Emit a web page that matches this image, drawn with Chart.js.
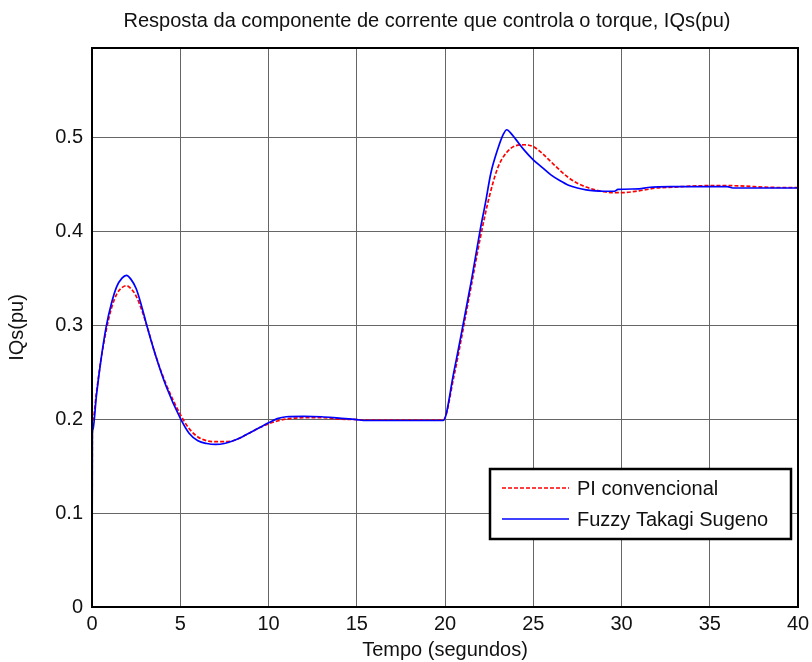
<!DOCTYPE html>
<html>
<head>
<meta charset="utf-8">
<script src="https://cdn.jsdelivr.net/npm/chart.js@4"></script>
<style>
  html, body { margin: 0; padding: 0; background: #fff; }
  #wrap { width: 812px; height: 662px; }
</style>
</head>
<body>
<div id="wrap"><canvas id="iqsChart" width="812" height="662"></canvas></div>
<script>
// tempo (s) e IQs (pu)
const tempoPI = [0, 0.02, 0.05, 0.25, 0.5, 0.8, 1.1, 1.4, 1.7, 1.95, 2.2, 2.5, 2.8, 3.1, 3.6, 4.2, 5, 5.5, 6, 6.5, 7, 7.5, 8, 8.5, 9, 9.5, 10, 10.5, 11, 12, 13, 14, 15, 15.5, 17, 19, 19.9,
  20.5, 21, 21.5, 22, 22.5, 23, 23.5, 24, 24.5, 25, 25.5, 26, 26.5, 27, 27.5, 28, 28.5, 29, 29.5, 30, 31, 32, 33, 34, 35, 36, 37, 38, 39, 40];
const iqsPI = [0, 0.194, 0.199, 0.228, 0.262, 0.294, 0.318, 0.333, 0.340, 0.342, 0.339, 0.331, 0.317, 0.300, 0.268, 0.237, 0.205, 0.190, 0.181, 0.177, 0.176, 0.176, 0.177, 0.181, 0.186, 0.191, 0.195, 0.198, 0.200, 0.2015, 0.2015, 0.200, 0.1995, 0.199, 0.199, 0.199, 0.199,
  0.245, 0.293, 0.343, 0.393, 0.436, 0.468, 0.484, 0.491, 0.492, 0.490, 0.483, 0.474, 0.465, 0.457, 0.451, 0.447, 0.444, 0.442, 0.441, 0.441, 0.443, 0.446, 0.447, 0.448, 0.4485, 0.4485, 0.448, 0.447, 0.4465, 0.4465];

const tempoFuzzy = [0, 0.02, 0.05, 0.25, 0.5, 0.8, 1.1, 1.4, 1.7, 1.95, 2.2, 2.5, 2.8, 3.1, 3.6, 4.2, 5, 5.5, 6, 6.5, 7, 7.5, 8, 8.5, 9, 9.5, 10, 10.5, 11, 12, 13, 14, 15, 15.5, 17, 19, 19.9,
  20.5, 21, 21.5, 22, 22.3, 22.6, 23, 23.3, 23.5, 23.7, 24, 24.5, 25, 25.5, 26, 26.5, 27, 27.5, 28, 28.5, 29, 29.6, 29.8, 31, 31.5, 32.8, 36, 36.3, 40];
const iqsFuzzy = [0, 0.183, 0.189, 0.225, 0.262, 0.298, 0.323, 0.341, 0.350, 0.353, 0.349, 0.339, 0.321, 0.300, 0.268, 0.235, 0.201, 0.185, 0.177, 0.174, 0.173, 0.174, 0.177, 0.181, 0.186, 0.191, 0.196, 0.2005, 0.2025, 0.203, 0.2025, 0.201, 0.1995, 0.1985, 0.1985, 0.1985, 0.1985,
  0.250, 0.298, 0.348, 0.402, 0.431, 0.462, 0.488, 0.503, 0.508, 0.505, 0.498, 0.486, 0.476, 0.468, 0.460, 0.454, 0.449, 0.446, 0.444, 0.443, 0.4425, 0.4425, 0.4445, 0.445, 0.4465, 0.4475, 0.4475, 0.446, 0.446];

const legendLabels = ['PI convencional', 'Fuzzy Takagi Sugeno'];
const xTicks = [0, 5, 10, 15, 20, 25, 30, 35, 40];
const yTicks = [0, 0.1, 0.2, 0.3, 0.4, 0.5];

const FONT = 'Liberation Sans, Arial, sans-serif';

function pts(xs, ys) {
  return xs.map((x, i) => ({ x: x, y: ys[i] }));
}

// caixa preta em volta do grafico
const frame = {
  id: 'frame',
  afterDatasetsDraw(chart) {
    const a = chart.chartArea, ctx = chart.ctx;
    ctx.save();
    ctx.strokeStyle = '#000';
    ctx.lineWidth = 2;
    ctx.strokeRect(a.left, a.top, a.right - a.left, a.bottom - a.top);
    ctx.restore();
  },
  afterLayout(chart) {
    // titulo centrado um pouco a esquerda do centro dos eixos, como no original
    if (chart.titleBlock) {
      chart.titleBlock.left = 56;
      chart.titleBlock.right = chart.chartArea.right;
    }
  }
};

// legenda dentro do grafico, canto inferior direito
const boxLegend = {
  id: 'boxLegend',
  afterDraw(chart) {
    const a = chart.chartArea, ctx = chart.ctx;
    const w = 301, h = 70;
    const left = a.right - 7 - w, top = a.bottom - 68 - h;
    ctx.save();
    ctx.fillStyle = '#fff';
    ctx.fillRect(left, top, w, h);
    ctx.strokeStyle = '#000';
    ctx.lineWidth = 2.5;
    ctx.strokeRect(left, top, w, h);
    ctx.font = '20px ' + FONT;
    ctx.textBaseline = 'middle';
    legendLabels.forEach((lab, i) => {
      const ds = chart.data.datasets[i];
      const y = top + 19 + i * 31;
      ctx.beginPath();
      ctx.strokeStyle = ds.borderColor;
      ctx.lineWidth = ds.borderWidth;
      ctx.setLineDash(ds.borderDash || []);
      ctx.moveTo(left + 12, y);
      ctx.lineTo(left + 79, y);
      ctx.stroke();
      ctx.setLineDash([]);
      ctx.fillStyle = '#111';
      ctx.fillText(lab, left + 87, y + 1);
    });
    ctx.restore();
  }
};

const iqsChart = new Chart(document.getElementById('iqsChart'), {
  type: 'line',
  data: {
    datasets: [{
      label: legendLabels[0],
      data: pts(tempoPI, iqsPI),
      borderColor: '#ff0000',
      borderWidth: 1.7,
      borderDash: [4, 2],
      pointRadius: 0,
      fill: false,
      cubicInterpolationMode: 'monotone',
      order: 1
    }, {
      label: legendLabels[1],
      data: pts(tempoFuzzy, iqsFuzzy),
      borderColor: '#0000ff',
      borderWidth: 1.7,
      pointRadius: 0,
      fill: false,
      cubicInterpolationMode: 'monotone',
      order: 0
    }]
  },
  options: {
    responsive: false,
    animation: false,
    layout: { padding: { left: 4, right: 14, top: 0, bottom: 0 } },
    plugins: {
      legend: { display: false },
      tooltip: { enabled: false },
      title: {
        display: true,
        text: 'Resposta da componente de corrente que controla o torque, IQs(pu)',
        color: '#111',
        font: { family: FONT, size: 20, weight: 'normal' },
        padding: { top: 9, bottom: 15 }
      }
    },
    scales: {
      x: {
        type: 'linear',
        min: 0,
        max: 40,
        afterBuildTicks(axis) { axis.ticks = xTicks.map(v => ({ value: v })); },
        afterFit(axis) {
          axis.height = 55;
          axis.paddingLeft = 0;
          axis.paddingRight = 0;
        },
        grid: { color: '#666', lineWidth: 1, drawTicks: false },
        border: { color: '#000', width: 2 },
        ticks: {
          color: '#111',
          padding: 5,
          maxRotation: 0,
          font: { family: FONT, size: 20 }
        },
        title: {
          display: true,
          text: 'Tempo (segundos)',
          color: '#111',
          font: { family: FONT, size: 20 },
          padding: { top: 0, bottom: 0 }
        }
      },
      y: {
        min: 0,
        max: 0.595,
        afterBuildTicks(axis) { axis.ticks = yTicks.map(v => ({ value: v })); },
        afterFit(axis) { axis.width = 88; },
        grid: { color: '#666', lineWidth: 1, drawTicks: false },
        border: { color: '#000', width: 2 },
        ticks: {
          color: '#111',
          padding: 9,
          font: { family: FONT, size: 20 },
          callback: v => (v === 0 ? '0' : v.toFixed(1))
        },
        title: {
          display: true,
          text: 'IQs(pu)',
          color: '#111',
          font: { family: FONT, size: 20 },
          padding: { top: 1, bottom: 0 }
        }
      }
    }
  },
  plugins: [frame, boxLegend]
});
</script>
</body>
</html>
